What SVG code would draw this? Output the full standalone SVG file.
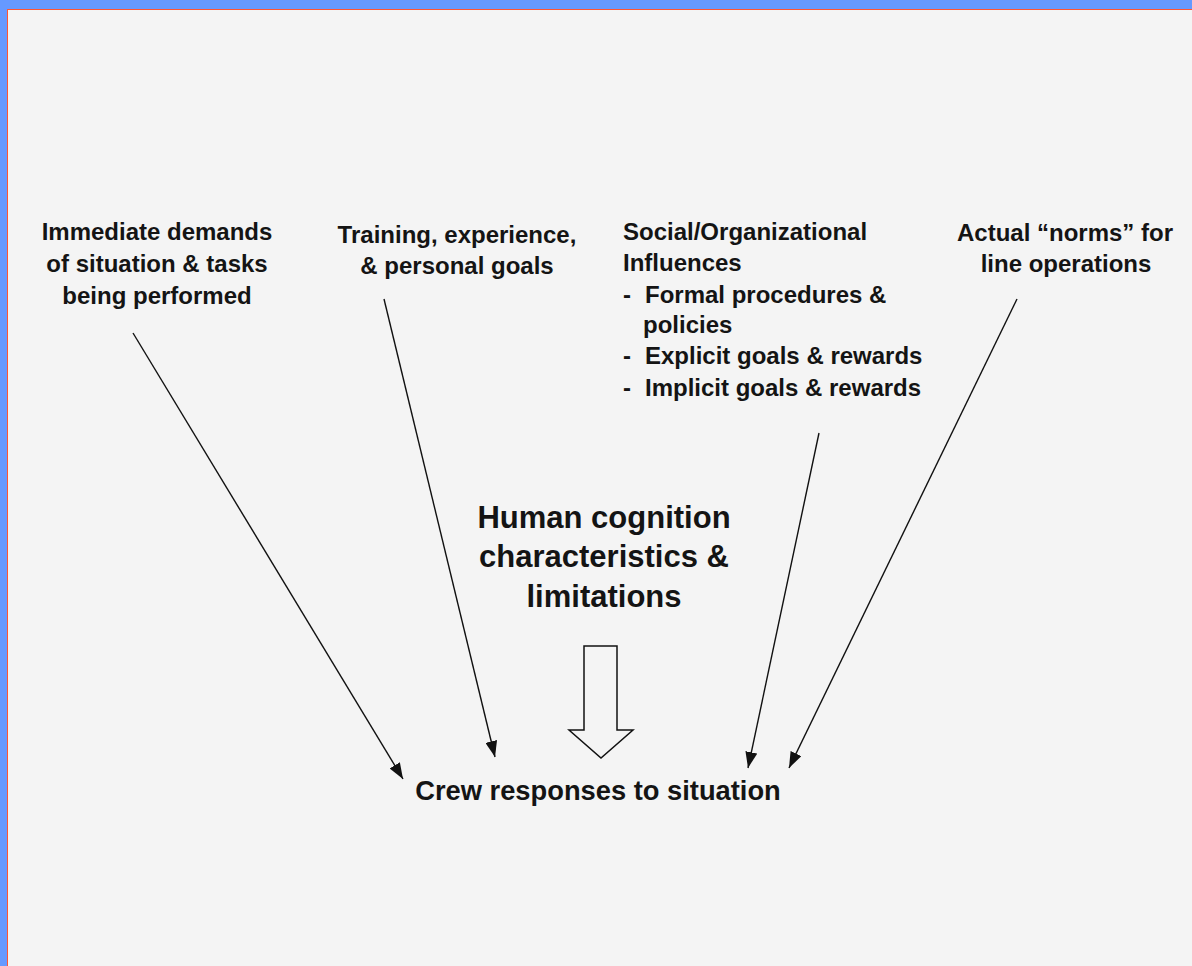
<svg xmlns="http://www.w3.org/2000/svg" width="1192" height="966" viewBox="0 0 1192 966">
  <style>
    .t { font-family: "Liberation Sans", Arial, sans-serif; font-weight: bold; fill: #141414; }
    .s24 { font-size: 24px; }
    .s31 { font-size: 31px; }
    .s27 { font-size: 27.3px; }
    .c { text-anchor: middle; }
    .conn { stroke: #111; stroke-width: 1.4; fill: none; }
  </style>
  <defs>
    <marker id="ah" viewBox="0 0 16 12" refX="16" refY="6" markerWidth="16" markerHeight="12" markerUnits="userSpaceOnUse" orient="auto">
      <path d="M0,0 L16,6 L0,12 Z" fill="#111"/>
    </marker>
  </defs>
  <rect x="0" y="0" width="1192" height="966" fill="#6699ff"/>
  <rect x="7" y="9" width="1185" height="957" fill="#ff5533"/>
  <rect x="8" y="10" width="1184" height="956" fill="#f4f4f4"/>

  <g id="node-immediate">
    <text class="t s24 c" x="157" y="240">Immediate demands</text>
    <text class="t s24 c" x="157" y="272">of situation &amp; tasks</text>
    <text class="t s24 c" x="157" y="304">being performed</text>
  </g>
  <g id="node-training">
    <text class="t s24 c" x="457" y="243">Training, experience,</text>
    <text class="t s24 c" x="457" y="274">&amp; personal goals</text>
  </g>
  <g id="node-social">
    <text class="t s24" x="623" y="240">Social/Organizational</text>
    <text class="t s24" x="623" y="271">Influences</text>
    <text class="t s24" x="623" y="303">-</text>
    <text class="t s24" x="645" y="303">Formal procedures &amp;</text>
    <text class="t s24" x="643" y="333">policies</text>
    <text class="t s24" x="623" y="364">-</text>
    <text class="t s24" x="645" y="364">Explicit goals &amp; rewards</text>
    <text class="t s24" x="623" y="396">-</text>
    <text class="t s24" x="645" y="396">Implicit goals &amp; rewards</text>
  </g>
  <g id="node-norms">
    <text class="t s24 c" x="1065" y="241">Actual “norms” for</text>
    <text class="t s24 c" x="1066" y="272">line operations</text>
  </g>
  <g id="node-cognition">
    <text class="t s31 c" x="604" y="528">Human cognition</text>
    <text class="t s31 c" x="604" y="567">characteristics &amp;</text>
    <text class="t s31 c" x="604" y="607">limitations</text>
    <path d="M584,646 L617,646 L617,730 L633,730 L601,758 L569,730 L584,730 Z" fill="none" stroke="#111" stroke-width="1.5"/>
  </g>
  <g id="node-crew">
    <text class="t s27 c" x="598" y="800">Crew responses to situation</text>
  </g>

  <g id="connectors">
    <line class="conn" x1="133" y1="333" x2="403" y2="779" marker-end="url(#ah)"/>
    <line class="conn" x1="384" y1="299" x2="495" y2="757" marker-end="url(#ah)"/>
    <line class="conn" x1="819" y1="433" x2="748" y2="768" marker-end="url(#ah)"/>
    <line class="conn" x1="1017" y1="299" x2="789" y2="768" marker-end="url(#ah)"/>
  </g>
</svg>
